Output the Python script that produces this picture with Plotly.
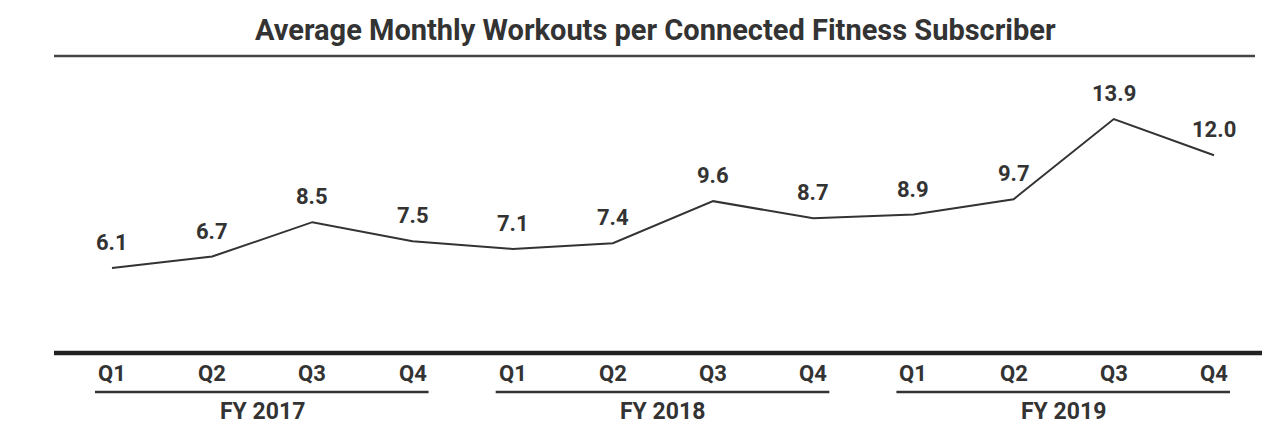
import plotly.graph_objects as go

title = "Average Monthly Workouts per Connected Fitness Subscriber"
quarters = ["Q1", "Q2", "Q3", "Q4"] * 3
fiscal_years = ["FY 2017", "FY 2018", "FY 2019"]
workouts = [6.1, 6.7, 8.5, 7.5, 7.1, 7.4, 9.6, 8.7, 8.9, 9.7, 13.9, 12.0]

W, H = 1280, 440
DARK = "#333333"
FONT = "Roboto"

idx = list(range(len(workouts)))

# pixel calibration
x_px_per = 100.18
x0_px = 112
y_px_per = 19.1
y_ref_val, y_ref_px = 6.1, 268

xr = [-x0_px / x_px_per, (W - x0_px) / x_px_per]
ylo = y_ref_val - (H - y_ref_px) / y_px_per
yr = [ylo, ylo + H / y_px_per]

fig = go.Figure()
fig.add_trace(go.Scatter(x=idx, y=workouts, mode="lines",
                         line=dict(color=DARK, width=2), hoverinfo="skip",
                         showlegend=False))

def py(px):
    return (H - px) / H

annotations = []
for i, v in zip(idx, workouts):
    annotations.append(dict(x=i, y=v, xref="x", yref="y", text=f"{v:.1f}",
                            showarrow=False, yanchor="bottom", yshift=11,
                            font=dict(family=FONT, size=22, color=DARK, weight="bold")))
for i, q in zip(idx, quarters):
    annotations.append(dict(x=i, y=py(373), xref="x", yref="paper", text=q,
                            showarrow=False, yanchor="middle",
                            font=dict(family=FONT, size=22, color=DARK, weight="bold")))
shapes = []
for g, fy in enumerate(fiscal_years):
    a, b = g * 4, g * 4 + 3
    annotations.append(dict(x=(a + b) / 2, y=py(411), xref="x", yref="paper", text=fy,
                            showarrow=False, yanchor="middle",
                            font=dict(family=FONT, size=23, color=DARK, weight="bold")))
    shapes.append(dict(type="line", xref="x", yref="paper", x0=a - 0.17, x1=b + 0.16,
                       y0=py(392), y1=py(392), line=dict(color=DARK, width=2.5)))

annotations.append(dict(x=655 / W, y=py(30), xref="paper", yref="paper", text=title,
                        showarrow=False, xanchor="center", yanchor="middle",
                        font=dict(family=FONT, size=29, color=DARK, weight="bold")))

shapes.append(dict(type="line", xref="paper", yref="paper", x0=54 / W, x1=1255 / W,
                   y0=py(56), y1=py(56), line=dict(color="#444444", width=2.5)))
shapes.append(dict(type="line", xref="paper", yref="paper", x0=54 / W, x1=1262 / W,
                   y0=py(353), y1=py(353), line=dict(color="#222222", width=4.5)))

fig.update_layout(
    width=W, height=H,
    margin=dict(l=0, r=0, t=0, b=0),
    paper_bgcolor="white", plot_bgcolor="white",
    xaxis=dict(range=xr, visible=False, fixedrange=True),
    yaxis=dict(range=yr, visible=False, fixedrange=True),
    annotations=annotations, shapes=shapes,
)

fig.write_html("out.html", config={"displayModeBar": False})
